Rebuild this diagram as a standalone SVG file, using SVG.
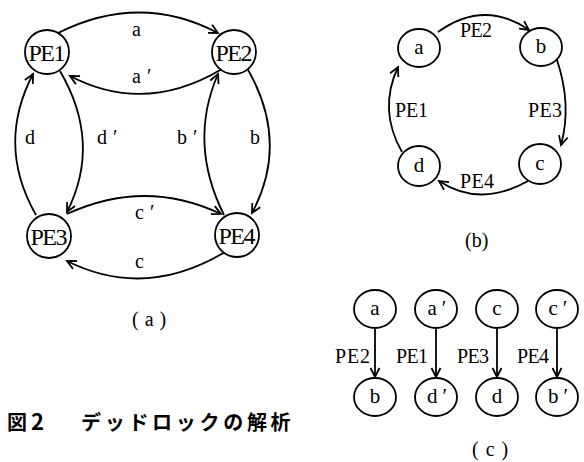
<svg xmlns="http://www.w3.org/2000/svg" width="584" height="462" viewBox="0 0 584 462">
<style>
.n{fill:#fff;stroke:#000;stroke-width:1.8}
.e{fill:none;stroke:#000;stroke-width:1.8}
.pe,.lb,.sm{font-family:'Liberation Serif','DejaVu Serif',serif;fill:#000}
.pe{font-size:24px;text-anchor:middle}
.lb{font-size:20px}
.sm{font-size:21px;text-anchor:middle}
.cap{font-family:'Noto Sans CJK JP',sans-serif;font-size:20px;font-weight:bold;fill:#000}
</style>
<defs>
<marker id="ar" markerUnits="userSpaceOnUse" markerWidth="20" markerHeight="20" refX="0" refY="0" viewBox="-12 -10 14 20" orient="auto">
<path d="M-9,-4.5 L0,0 L-9,4.5" fill="none" stroke="#000" stroke-width="1.8"/>
</marker>
</defs>
<g id="connectors">
<path class="e" d="M58,33 Q140,-8 218,33" marker-end="url(#ar)"/>
<path class="e" d="M222,69 Q145,115 70,76" marker-end="url(#ar)"/>
<path class="e" d="M36,215 Q-4,145 33,74" marker-end="url(#ar)"/>
<path class="e" d="M60,71 Q102,143 67,212" marker-end="url(#ar)"/>
<path class="e" d="M224,215 Q188,143 218,74" marker-end="url(#ar)"/>
<path class="e" d="M247,68 Q290,142 252,213" marker-end="url(#ar)"/>
<path class="e" d="M67,214 Q145,178 221,214" marker-end="url(#ar)"/>
<path class="e" d="M225,252 Q145,300 67,261" marker-end="url(#ar)"/>
<path class="e" d="M438,32 Q484,-1 529,30" marker-end="url(#ar)"/>
<path class="e" d="M557,60 Q572,105 561,145" marker-end="url(#ar)"/>
<path class="e" d="M528,181 Q480,208 439,181" marker-end="url(#ar)"/>
<path class="e" d="M402,152 Q378,110 398,67" marker-end="url(#ar)"/>
<path class="e" d="M375,328 L375,377" marker-end="url(#ar)"/>
<path class="e" d="M436,328 L436,377" marker-end="url(#ar)"/>
<path class="e" d="M497,328 L497,377" marker-end="url(#ar)"/>
<path class="e" d="M557,328 L557,377" marker-end="url(#ar)"/>
</g>
<g id="edge-labels">
<text class="lb" x="132" y="36">a</text>
<text class="lb" x="132" y="83">a<tspan dx="6">′</tspan></text>
<text class="lb" x="25" y="144">d</text>
<text class="lb" x="97" y="144">d<tspan dx="6">′</tspan></text>
<text class="lb" x="177" y="144">b<tspan dx="6">′</tspan></text>
<text class="lb" x="250" y="144">b</text>
<text class="lb" x="135" y="219">c<tspan dx="6">′</tspan></text>
<text class="lb" x="135" y="268">c</text>
<text class="lb" x="460" y="37" textLength="32">PE2</text>
<text class="lb" x="395" y="117" textLength="33">PE1</text>
<text class="lb" x="528" y="117" textLength="34">PE3</text>
<text class="lb" x="460" y="188" textLength="34">PE4</text>
<text class="lb" x="335" y="363" textLength="35">PE2</text>
<text class="lb" x="396" y="363" textLength="32">PE1</text>
<text class="lb" x="457" y="363" textLength="32">PE3</text>
<text class="lb" x="517" y="363" textLength="32">PE4</text>
</g>
<g id="PE1"><circle class="n" cx="47" cy="52" r="22"/><text class="pe" x="47" y="61" textLength="37">PE1</text></g>
<g id="PE2"><circle class="n" cx="234" cy="52" r="22"/><text class="pe" x="234" y="61" textLength="37">PE2</text></g>
<g id="PE3"><circle class="n" cx="49" cy="236" r="22"/><text class="pe" x="49" y="245" textLength="37">PE3</text></g>
<g id="PE4"><circle class="n" cx="237" cy="235" r="22"/><text class="pe" x="237" y="244" textLength="37">PE4</text></g>
<g id="b-a"><ellipse class="n" cx="419" cy="48" rx="21" ry="19"/><text class="sm" x="419" y="54">a</text></g>
<g id="b-b"><ellipse class="n" cx="541" cy="47" rx="21" ry="19"/><text class="sm" x="541" y="53">b</text></g>
<g id="b-c"><ellipse class="n" cx="540" cy="164" rx="21" ry="20"/><text class="sm" x="540" y="170">c</text></g>
<g id="b-d"><ellipse class="n" cx="419" cy="166" rx="21" ry="20"/><text class="sm" x="419" y="172">d</text></g>
<g id="c-a"><ellipse class="n" cx="375" cy="309" rx="21" ry="19"/><text class="sm" x="375" y="315">a</text></g>
<g id="c-a2"><ellipse class="n" cx="436" cy="309" rx="21" ry="19"/><text class="sm" x="437" y="315">a<tspan dx="5">′</tspan></text></g>
<g id="c-c"><ellipse class="n" cx="497" cy="309" rx="21" ry="19"/><text class="sm" x="497" y="315">c</text></g>
<g id="c-c2"><ellipse class="n" cx="557" cy="309" rx="21" ry="19"/><text class="sm" x="558" y="315">c<tspan dx="5">′</tspan></text></g>
<g id="c-b"><ellipse class="n" cx="375" cy="397" rx="21" ry="19"/><text class="sm" x="375" y="403">b</text></g>
<g id="c-d2"><ellipse class="n" cx="436" cy="397" rx="21" ry="19"/><text class="sm" x="437" y="403">d<tspan dx="5">′</tspan></text></g>
<g id="c-d"><ellipse class="n" cx="497" cy="397" rx="21" ry="19"/><text class="sm" x="497" y="403">d</text></g>
<g id="c-b2"><ellipse class="n" cx="557" cy="397" rx="21" ry="19"/><text class="sm" x="558" y="403">b<tspan dx="5">′</tspan></text></g>
<g id="captions">
<text class="lb" x="132" y="326" letter-spacing="6">(a)</text>
<text class="lb" x="465" y="247">(b)</text>
<text class="lb" x="472" y="456" letter-spacing="7">(c)</text>
<text class="cap" y="430"><tspan x="7">図</tspan><tspan x="31" font-size="22px">2</tspan><tspan x="81" letter-spacing="3.7">デッドロックの解析</tspan></text>
</g>
</svg>
